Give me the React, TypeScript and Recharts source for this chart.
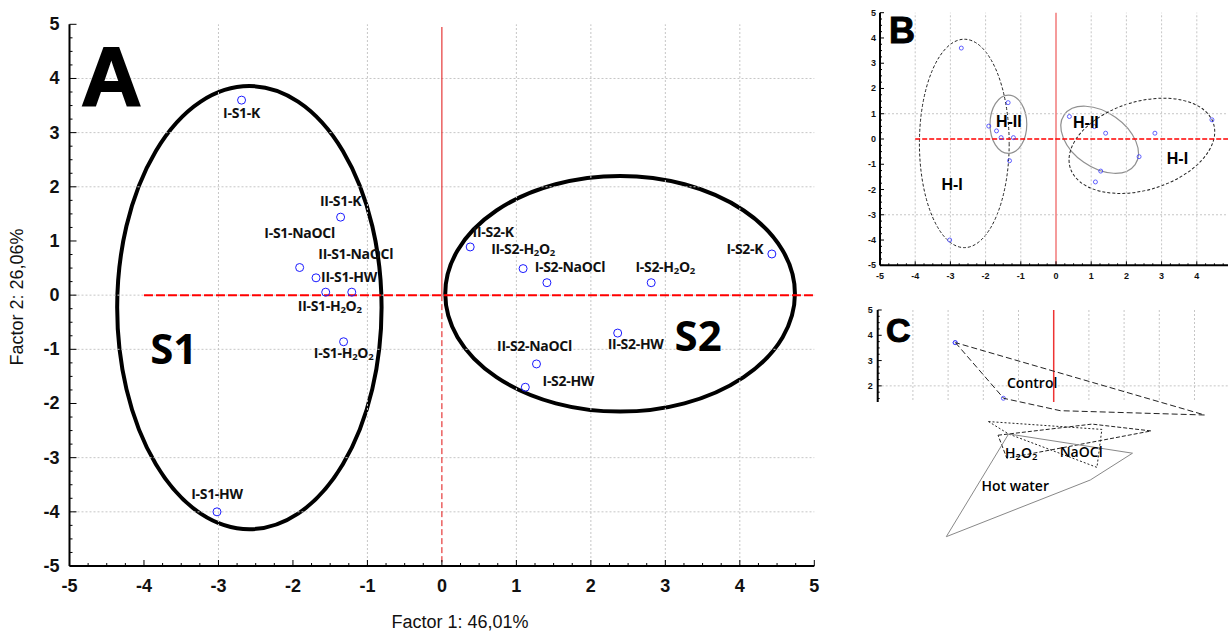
import React from "react";
import { ScatterChart, Scatter, XAxis, YAxis, ReferenceLine, ReferenceArea } from "recharts";

// ─── sample scores (Factor 1 / Factor 2) ───
const SAMPLES = [
  "I-S1-K", "II-S1-K", "I-S1-NaOCl", "II-S1-HW", "II-S1-NaOCl", "II-S1-H2O2", "I-S1-H2O2", "I-S1-HW",
  "II-S2-K", "II-S2-H2O2", "I-S2-NaOCl", "I-S2-H2O2", "I-S2-K", "II-S2-HW", "II-S2-NaOCl", "I-S2-HW",
];
const FACTOR_1 = [-2.69, -1.36, -1.91, -1.69, -1.21, -1.56, -1.32, -3.02, 0.38, 1.09, 1.41, 2.81, 4.43, 2.36, 1.27, 1.12];
const FACTOR_2 = [3.6, 1.44, 0.51, 0.32, 0.055, 0.055, -0.86, -4.0, 0.89, 0.49, 0.23, 0.23, 0.76, -0.7, -1.27, -1.7];

// ─── panel A clusters (bounding box of each ellipse) ───
const CLUSTERS = ["S1", "S2"];
const CLUSTER_X = [[-4.36, -0.81], [0.045, 4.74]];
const CLUSTER_Y = [[-4.32, 3.86], [-2.15, 2.2]];
const CLUSTER_LABEL_AT = [[-3.6, -0.97], [3.44, -0.72]];

// ─── panel B hierarchical groups ───
const HGROUPS = ["H-I", "H-II", "H-II", "H-I"];
const HGROUP_X = [[-3.88, -1.33], [-1.875, -0.83], [0.01, 2.47], [0.31, 4.57]];
const HGROUP_Y = [[-4.3, 3.95], [-0.57, 1.74], [-1.12, 1.06], [-2.02, 1.48]];
const HGROUP_TILT = [0, 0, 35, -17];
const HGROUP_LABEL_AT = [[-2.95, -1.82], [-1.34, 0.71], [0.85, 0.65], [3.45, -0.79]];

// ─── panel C treatment hulls ───
const TREATMENTS = ["Control", "H2O2", "NaOCl", "Hot water"];
const HULL_CONTROL = [[-2.8, 3.71], [-1.43, 1.51], [0.18, 1.02], [4.28, 0.85]];
const HULL_H2O2 = [[-1.59, 0.05], [1.08, 0.49], [2.76, 0.22], [-1.34, -0.86]];
const HULL_NAOCL = [[-1.86, 0.59], [1.36, 0.28], [1.22, -1.22], [-1.29, 0.1]];
const HULL_HOTWATER = [[-3.06, -3.96], [-1.29, 0.1], [2.23, -0.66], [1.03, -1.72]];
const TREATMENT_LABEL_AT = [[-0.62, 2.15], [-0.93, -0.61], [0.77, -0.61], [-1.1, -1.92]];

// label placement around each sample point in panel A (px)
const LABEL_OFFSET: Record<string, [number, number]> = {
  "I-S1-K": [0, 12], "II-S1-K": [0, -17], "I-S1-NaOCl": [0, -35], "II-S1-HW": [33, -1],
  "II-S1-NaOCl": [4, -39], "II-S1-H2O2": [4, 13], "I-S1-H2O2": [0, 10], "I-S1-HW": [0, -18],
  "II-S2-K": [23, -15], "II-S2-H2O2": [0, -21], "I-S2-NaOCl": [23, -16], "I-S2-H2O2": [14, -17],
  "I-S2-K": [-27, -5], "II-S2-HW": [18, 10], "II-S2-NaOCl": [-2, -18], "I-S2-HW": [43, -7],
};

const AXIS_FONT = "'Liberation Sans', Arial, sans-serif";
const LABEL_FONT = "'Open Sans', sans-serif";
const AXIS_LINE = { stroke: "#000", strokeWidth: 2 };

const POINTS = SAMPLES.map((name, i) => ({ name, x: FACTOR_1[i], y: FACTOR_2[i] }));

function quarterTicks(lo: number, hi: number) {
  const out: number[] = [];
  for (let v = Math.ceil(lo * 4) / 4; v <= hi + 1e-9; v += 0.25) out.push(Math.round(v * 100) / 100);
  return out;
}
const Q = quarterTicks(-5, 5);

function subscripted(text: string, size: number) {
  const i = text.indexOf("H2O2");
  if (i < 0) return text;
  const sub = size * 0.68;
  const sh = size * 0.3;
  return [
    <tspan key="a">{text.slice(0, i)}H</tspan>,
    <tspan key="b" dy={sh} fontSize={sub}>2</tspan>,
    <tspan key="c" dy={-sh}>O</tspan>,
    <tspan key="d" dy={sh} fontSize={sub}>2</tspan>,
    <tspan key="e" dy={-sh}>{text.slice(i + 4)}</tspan>,
  ];
}

type Side = "left" | "right" | "top" | "bottom";
function frameTick(side: Side, o: { major: number; minor: number; gap?: number; size?: number; maxLabel?: number }) {
  return (props: any) => {
    const { x, y, payload } = props;
    const v = Number(payload.value);
    const isMajor = Math.abs(v - Math.round(v)) < 1e-6;
    const len = isMajor ? o.major : o.minor;
    const dx = side === "left" ? len : side === "right" ? -len : 0;
    const dy = side === "top" ? len : side === "bottom" ? -len : 0;
    let label = null;
    if (o.gap !== undefined && isMajor && (o.maxLabel === undefined || v <= o.maxLabel)) {
      const common = { fontFamily: AXIS_FONT, fontSize: o.size, fontWeight: 700, fill: "#111", dominantBaseline: "central" as const };
      if (side === "left") label = <text x={x - o.gap} y={y} textAnchor="end" {...common}>{v}</text>;
      if (side === "bottom") label = <text x={x} y={y + o.gap} textAnchor="middle" {...common}>{v}</text>;
    }
    return (
      <g>
        <line x1={x} y1={y} x2={x + dx} y2={y + dy} stroke="#000" strokeWidth={1} />
        {label}
      </g>
    );
  };
}

function ellipseShape(stroke: string, width: number, dash?: string, tilt = 0) {
  return (p: any) => {
    const cx = p.x + p.width / 2;
    const cy = p.y + p.height / 2;
    return (
      <ellipse cx={cx} cy={cy} rx={p.width / 2} ry={p.height / 2} fill="none" stroke={stroke}
        strokeWidth={width} strokeDasharray={dash} transform={`rotate(${tilt} ${cx} ${cy})`} />
    );
  };
}

function textShape(font: string, size: number, weight: number) {
  return (p: any) => (
    <text x={p.cx} y={p.cy} textAnchor="middle" dominantBaseline="central" fontFamily={font}
      fontSize={size} fontWeight={weight} fill="#000">
      {subscripted(p.payload.label, size)}
    </text>
  );
}

const sampleShapeA = (p: any) => {
  const [dx, dy] = LABEL_OFFSET[p.payload.name] || [0, 0];
  return (
    <g>
      <circle cx={p.cx} cy={p.cy} r={4} fill="none" stroke="#1a1aff" strokeWidth={1} />
      <text x={p.cx + dx} y={p.cy + dy} textAnchor="middle" dominantBaseline="central" fontFamily={LABEL_FONT}
        fontSize={14} fontWeight={700} fill="#111" letterSpacing={-0.3}>
        {subscripted(p.payload.name, 14)}
      </text>
    </g>
  );
};

const smallDot = (p: any) => <circle cx={p.cx} cy={p.cy} r={2} fill="none" stroke="#3a3aff" strokeWidth={0.8} />;
const noShape = () => <g />;

const GRID = { stroke: "#c6c6c6", strokeDasharray: "2 2", strokeWidth: 1 };

// ─── Panel A ───
function PanelA() {
  const ax = { xAxisId: "b", yAxisId: "l" };
  return (
    <div style={{ position: "absolute", left: 0, top: 0 }}>
      <ScatterChart width={830} height={632} margin={{ top: 24.3, right: 15.7, bottom: 0, left: 0 }}>
        <XAxis xAxisId="b" dataKey="x" type="number" domain={[-5, 5]} ticks={Q} interval={0} allowDataOverflow height={66}
          tickSize={0} tickMargin={0} tickLine={false} axisLine={AXIS_LINE} tick={frameTick("bottom", { major: 6, minor: 3, gap: 20, size: 18 })} />
        <XAxis xAxisId="t" orientation="top" dataKey="x" type="number" domain={[-5, 5]} ticks={Q} interval={0} allowDataOverflow height={0}
          tickSize={0} tickMargin={0} tickLine={false} axisLine={AXIS_LINE} tick={frameTick("top", { major: 6, minor: 3 })} />
        <YAxis yAxisId="l" dataKey="y" type="number" domain={[-5, 5]} ticks={Q} interval={0} allowDataOverflow width={69.5}
          tickSize={0} tickMargin={0} tickLine={false} axisLine={AXIS_LINE} tick={frameTick("left", { major: 7, minor: 3, gap: 10, size: 18 })} />
        <YAxis yAxisId="r" orientation="right" dataKey="y" type="number" domain={[-5, 5]} ticks={Q} interval={0} allowDataOverflow width={0}
          tickSize={0} tickMargin={0} tickLine={false} axisLine={AXIS_LINE} tick={frameTick("right", { major: 6, minor: 3 })} />
        {[-3, -1, 1, 2, 3, 4].map((v) => <ReferenceLine key={"vx" + v} {...ax} x={v} {...GRID} />)}
        {[4, 3, 2, 0, -1, -3, -4].map((v) => <ReferenceLine key={"hy" + v} {...ax} y={v} {...GRID} />)}
        <ReferenceLine {...ax} segment={[{ x: 0, y: 4.95 }, { x: 0, y: 0 }]} stroke="#e01010" strokeWidth={1} />
        <ReferenceLine {...ax} segment={[{ x: 0, y: 0 }, { x: 0, y: -5 }]} stroke="#e01010" strokeWidth={1} strokeDasharray="6 3" />
        <ReferenceLine {...ax} segment={[{ x: -4, y: 0 }, { x: 5, y: 0 }]} stroke="#ff0000" strokeWidth={2} strokeDasharray="9 3" />
        {CLUSTERS.map((c, i) => (
          <ReferenceArea key={c} {...ax} x1={CLUSTER_X[i][0]} x2={CLUSTER_X[i][1]} y1={CLUSTER_Y[i][0]} y2={CLUSTER_Y[i][1]}
            shape={ellipseShape("#000", 4)} />
        ))}
        <Scatter {...ax} data={POINTS} shape={sampleShapeA} isAnimationActive={false} />
        <Scatter {...ax} data={CLUSTERS.map((c, i) => ({ label: c, x: CLUSTER_LABEL_AT[i][0], y: CLUSTER_LABEL_AT[i][1] }))}
          shape={textShape(LABEL_FONT, 42, 700)} isAnimationActive={false} />
      </ScatterChart>
    </div>
  );
}

// ─── Panel B ───
function PanelB() {
  const ax = { xAxisId: "b", yAxisId: "l" };
  const styles = [
    { s: "#222", w: 1, d: "3 2" },
    { s: "#909090", w: 1.2, d: undefined },
    { s: "#909090", w: 1.2, d: undefined },
    { s: "#222", w: 1, d: "3 2" },
  ];
  return (
    <div style={{ position: "absolute", left: 840, top: 0 }}>
      <ScatterChart width={400} height={290} margin={{ top: 12.7, right: 8, bottom: 0, left: 0 }}>
        <XAxis xAxisId="b" dataKey="x" type="number" domain={[-5, 5]} ticks={Q} interval={0} allowDataOverflow height={24.7}
          tickSize={0} tickMargin={0} tickLine={false} axisLine={AXIS_LINE}
          tick={frameTick("bottom", { major: 4, minor: 2, gap: 11, size: 9, maxLabel: 4 })} />
        <XAxis xAxisId="t" orientation="top" dataKey="x" type="number" domain={[-5, 5]} ticks={Q} interval={0} allowDataOverflow height={0}
          tickSize={0} tickMargin={0} tickLine={false} axisLine={AXIS_LINE} tick={frameTick("top", { major: 4, minor: 2 })} />
        <YAxis yAxisId="l" dataKey="y" type="number" domain={[-5, 5]} ticks={Q} interval={0} allowDataOverflow width={40}
          tickSize={0} tickMargin={0} tickLine={false} axisLine={AXIS_LINE} tick={frameTick("left", { major: 4, minor: 2, gap: 4, size: 9 })} />
        {[-4, -3, -2, -1, 1, 2, 3, 4].map((v) => <ReferenceLine key={"vx" + v} {...ax} x={v} {...GRID} />)}
        {[1, -3].map((v) => <ReferenceLine key={"hy" + v} {...ax} y={v} {...GRID} />)}
        <ReferenceLine {...ax} x={0} stroke="#f27a7a" strokeWidth={1.5} />
        <ReferenceLine {...ax} segment={[{ x: -4, y: 0 }, { x: 5, y: 0 }]} stroke="#ff0000" strokeWidth={1.5} strokeDasharray="5 2" />
        {HGROUPS.map((g, i) => (
          <ReferenceArea key={"h" + i} {...ax} x1={HGROUP_X[i][0]} x2={HGROUP_X[i][1]} y1={HGROUP_Y[i][0]} y2={HGROUP_Y[i][1]}
            shape={ellipseShape(styles[i].s, styles[i].w, styles[i].d, HGROUP_TILT[i])} />
        ))}
        <Scatter {...ax} data={POINTS} shape={smallDot} isAnimationActive={false} />
        <Scatter {...ax} data={HGROUPS.map((g, i) => ({ label: g, x: HGROUP_LABEL_AT[i][0], y: HGROUP_LABEL_AT[i][1] }))}
          shape={textShape(AXIS_FONT, 16, 700)} isAnimationActive={false} />
      </ScatterChart>
    </div>
  );
}

// ─── Panel C ───
const close = (pts: number[][]) => [...pts, pts[0]].map(([x, y]) => ({ x, y }));

function PanelCFrame() {
  const ax = { xAxisId: "t", yAxisId: "l" };
  const qy = quarterTicks(1.35, 5);
  return (
    <div style={{ position: "absolute", left: 840, top: 300 }}>
      <ScatterChart width={390} height={102.3} margin={{ top: 10, right: 0.3, bottom: 0, left: 0 }}>
        <XAxis xAxisId="t" orientation="top" dataKey="x" type="number" domain={[-5, 5]} ticks={Q} interval={0} allowDataOverflow height={0}
          tickSize={0} tickMargin={0} tickLine={false} axisLine={AXIS_LINE} tick={frameTick("top", { major: 4, minor: 2 })} />
        <YAxis yAxisId="l" dataKey="y" type="number" domain={[1.35, 5]} ticks={qy} interval={0} allowDataOverflow width={37.7}
          tickSize={0} tickMargin={0} tickLine={false} axisLine={AXIS_LINE} tick={frameTick("left", { major: 4, minor: 2, gap: 5, size: 9 })} />
        {[-4, -3, -2, -1, 1, 2, 3, 4].map((v) => <ReferenceLine key={"vx" + v} {...ax} x={v} {...GRID} />)}
        <ReferenceLine {...ax} y={2} {...GRID} />
        <ReferenceLine {...ax} x={0} stroke="#ee3333" strokeWidth={1.5} />
        <Scatter {...ax} data={close(HULL_CONTROL)} shape={smallDot} isAnimationActive={false} />
      </ScatterChart>
    </div>
  );
}

function PanelCHulls() {
  const hulls = [HULL_CONTROL, HULL_H2O2, HULL_NAOCL, HULL_HOTWATER];
  const lines = [
    { stroke: "#222", strokeWidth: 1, strokeDasharray: "6 3" },
    { stroke: "#222", strokeWidth: 1, strokeDasharray: "4 2" },
    { stroke: "#222", strokeWidth: 1, strokeDasharray: "2 2" },
    { stroke: "#888", strokeWidth: 1 },
  ];
  return (
    <div style={{ position: "absolute", left: 877.7, top: 310 }}>
      <ScatterChart width={352} height={253} margin={{ top: 0, right: 0, bottom: 0, left: 0 }}>
        <XAxis dataKey="x" type="number" domain={[-5, 5]} hide allowDataOverflow />
        <YAxis dataKey="y" type="number" domain={[-5, 5]} hide allowDataOverflow />
        {hulls.map((h, i) => (
          <Scatter key={TREATMENTS[i]} data={close(h)} line={lines[i]} lineType="joint" shape={noShape} isAnimationActive={false} />
        ))}
        <Scatter data={TREATMENTS.map((t, i) => ({ label: t, x: TREATMENT_LABEL_AT[i][0], y: TREATMENT_LABEL_AT[i][1] }))}
          shape={textShape(LABEL_FONT, 14, 600)} isAnimationActive={false} />
      </ScatterChart>
    </div>
  );
}

export default function App() {
  return (
    <div style={{ position: "absolute", left: 0, top: 0, width: 1228, height: 632, overflow: "hidden", background: "#fff" }}>
      <PanelA />
      <PanelB />
      <PanelCFrame />
      <PanelCHulls />
      <svg width={1228} height={632} style={{ position: "absolute", left: 0, top: 0, pointerEvents: "none" }}>
        <text x={81} y={106} fontFamily={AXIS_FONT} fontSize={84} fontWeight={700} fill="#000" stroke="#000" strokeWidth={2}>A</text>
        <text x={889} y={43} fontFamily={AXIS_FONT} fontSize={36} fontWeight={700} fill="#000" stroke="#000" strokeWidth={1}>B</text>
        <text x={886} y={342} fontFamily={AXIS_FONT} fontSize={34} fontWeight={700} fill="#000" stroke="#000" strokeWidth={1}>C</text>
        <text x={460} y={622} textAnchor="middle" dominantBaseline="central" fontFamily={AXIS_FONT} fontSize={18} fill="#111">
          Factor 1: 46,01%
        </text>
        <text x={17} y={297} textAnchor="middle" dominantBaseline="central" fontFamily={AXIS_FONT} fontSize={18} fill="#111"
          transform="rotate(-90 17 297)">
          Factor 2: 26,06%
        </text>
      </svg>
    </div>
  );
}
